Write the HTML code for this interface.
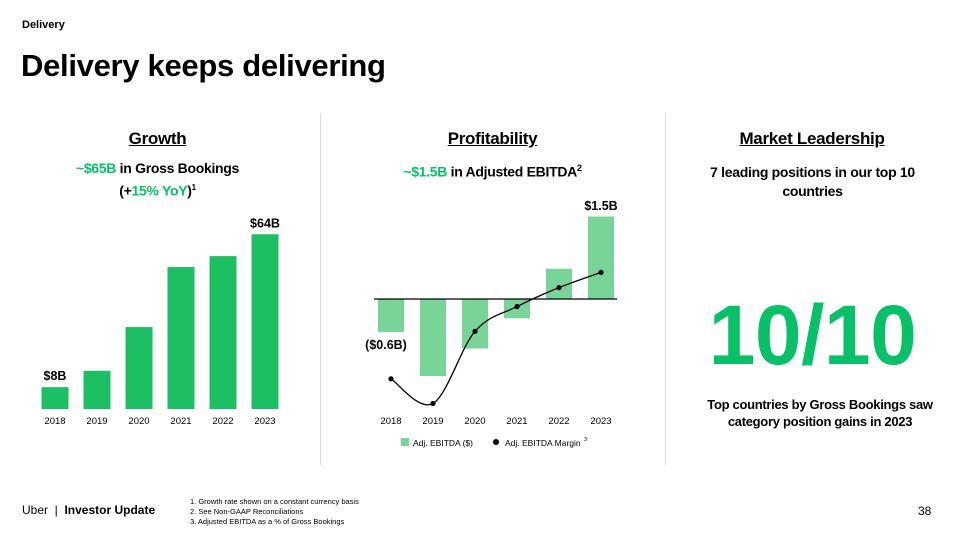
<!DOCTYPE html>
<html><head><meta charset="utf-8">
<style>
body{margin:0;width:956px;height:536px;background:#fff;font-family:"Liberation Sans",sans-serif;color:#000;position:relative;overflow:hidden}
.a{position:absolute}
.h{font-weight:bold;font-size:17px;text-decoration:underline;text-align:center;letter-spacing:-0.3px}
.s{font-weight:bold;font-size:14px;text-align:center;line-height:19px;letter-spacing:-0.3px}
.g{color:#06c167}
</style></head><body>
<div class="a" style="left:22px;top:19px;font-size:11px;font-weight:bold">Delivery</div>
<div class="a" style="left:21px;top:48px;font-size:31px;font-weight:bold;letter-spacing:-0.3px">Delivery keeps delivering</div>
<div class="a" style="left:320px;top:113px;width:1px;height:352px;background:#ddd"></div>
<div class="a" style="left:665px;top:113px;width:1px;height:352px;background:#ddd"></div>

<div class="a h" style="left:60px;top:129px;width:195px">Growth</div>
<div class="a s" style="left:40px;top:159px;width:235px"><span class="g">~$65B</span> in Gross Bookings<br>(+<span class="g">15% YoY</span>)<sup style="font-size:8px">1</sup></div>
<div class="a h" style="left:395px;top:129px;width:195px">Profitability</div>
<div class="a s" style="left:370px;top:159px;width:245px"><span class="g">~$1.5B</span> in Adjusted EBITDA<sup style="font-size:9px">2</sup></div>
<div class="a h" style="left:712px;top:129px;width:200px">Market Leadership</div>
<div class="a s" style="left:690px;top:163px;width:245px">7 leading positions in our top 10 countries</div>
<div class="a" style="left:680px;top:287px;width:265px;text-align:center;font-size:84px;font-weight:bold;color:#06c167;letter-spacing:-0.5px">10/10</div>
<div class="a s" style="left:690px;top:396px;width:260px;font-size:13px;line-height:17px">Top countries by Gross Bookings saw category position gains in 2023</div>

<svg class="a" style="left:0;top:0" width="956" height="536">
<g id="growth"></g>
<g id="prof"></g>
</svg>

<div class="a" style="left:22px;top:503px;font-size:12px">Uber &nbsp;|&nbsp; <b>Investor Update</b></div>
<div class="a" style="left:190px;top:497px;font-size:7.5px;line-height:10px">1. Growth rate shown on a constant currency basis<br>2. See Non-GAAP Reconciliations<br>3. Adjusted EBITDA as a % of Gross Bookings</div>
<div class="a" style="left:918px;top:504px;font-size:12px">38</div>

<script>
const years=["2018","2019","2020","2021","2022","2023"];
const bookings=[8,14,30,52,56,64];
const bookingLabels={0:"$8B",5:"$64B"};
const ebitda=[-0.6,-1.4,-0.9,-0.35,0.55,1.5];
const margin=[-4.2,-5.5,-1.7,-0.4,0.6,1.4];
const NS="http://www.w3.org/2000/svg";
function mk(p,t,a,txt){const e=document.createElementNS(NS,t);for(const k in a)e.setAttribute(k,a[k]);if(txt!=null)e.textContent=txt;p.appendChild(e);return e;}
// growth
const g=document.getElementById('growth');
const gx=i=>55+i*42, gy=v=>409-v*2.73;
bookings.forEach((v,i)=>{
 const r=mk(g,'rect',{x:gx(i)-13.5,y:gy(v),width:27,height:409-gy(v),fill:'#1dbf63'});
 
 
 const t=mk(g,'text',{x:gx(i),y:424,'font-size':9.5,'text-anchor':'middle'},years[i]);
 
 
 if(bookingLabels[i]){const l=mk(g,'text',{x:gx(i),y:gy(v)-7,'font-size':12.5,'font-weight':'bold','text-anchor':'middle'},bookingLabels[i]);
 
 }
});
// profitability
const p=document.getElementById('prof');
const px=i=>391+i*42, py=v=>299-v*55, my=v=>299-v*19;
ebitda.forEach((v,i)=>{
 const y0=Math.min(py(v),299),h=Math.abs(py(v)-299);
 const r=mk(p,'rect',{x:px(i)-13,y:y0,width:26,height:h,fill:'#79d597'});
 
 
 const t=mk(p,'text',{x:px(i),y:424,'font-size':9.5,'text-anchor':'middle'},years[i]);
 
 
});
const zl=mk(p,'line',{x1:374,x2:617,y1:299,y2:299,stroke:'#000','stroke-width':1.2});


const pts=margin.map((v,i)=>[px(i),my(v)]);
let d='M'+pts[0][0]+','+pts[0][1];
for(let i=0;i<pts.length-1;i++){const p0=pts[Math.max(i-1,0)],p1=pts[i],p2=pts[i+1],p3=pts[Math.min(i+2,pts.length-1)];
 d+=` C${p1[0]+(p2[0]-p0[0])/6},${p1[1]+(p2[1]-p0[1])/6} ${p2[0]-(p3[0]-p1[0])/6},${p2[1]-(p3[1]-p1[1])/6} ${p2[0]},${p2[1]}`;}
const ln=mk(p,'path',{d:d,fill:'none',stroke:'#000','stroke-width':1.3});


pts.forEach(q=>{const c=mk(p,'circle',{cx:q[0],cy:q[1],r:2.6,fill:'#000'});
 
 });
const l1=mk(p,'text',{x:386,y:349,'font-size':12.5,'font-weight':'bold','text-anchor':'middle'},"($0.6B)");


const l2=mk(p,'text',{x:601,y:210,'font-size':12.5,'font-weight':'bold','text-anchor':'middle'},"$1.5B");


// legend
const lg=mk(p,'g',{});


mk(lg,'rect',{x:401,y:438,width:8,height:8,fill:'#79d597'});
mk(lg,'text',{x:413,y:446,'font-size':8.5},"Adj. EBITDA ($)");
mk(lg,'circle',{cx:496,cy:442,r:3,fill:'#000'});
const lt=mk(lg,'text',{x:505,y:446,'font-size':8.5},"Adj. EBITDA Margin");
mk(lg,'text',{x:584,y:441,'font-size':5.5},"3");
</script>
</body></html>
